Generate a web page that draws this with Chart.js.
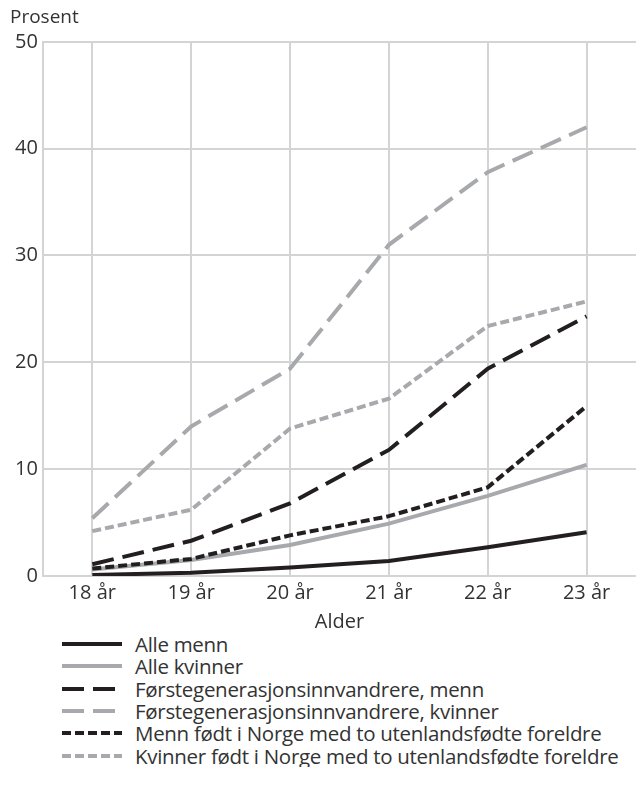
<!DOCTYPE html>
<html>
<head>
<meta charset="utf-8">
<script src="https://cdn.jsdelivr.net/npm/chart.js@4"></script>
<style>
  body { margin: 0; background: #fff; font-family: "Open Sans", sans-serif; }
  #wrap { position: relative; width: 636px; height: 634px; }
  #legend { margin: -1px 0 0 0; padding: 0 0 0 62px; list-style: none; }
  #legend li { height: 22.3px; display: flex; align-items: center; font-size: 20.5px; color: #333; white-space: nowrap; letter-spacing: -0.3px; }
  #legend svg { margin-right: 13px; flex: none; }
</style>
</head>
<body>
<div id="wrap"><canvas id="chart"></canvas></div>
<ul id="legend"></ul>
<script>
// Kategorier og verdier (prosent)
const ages = ['18 år', '19 år', '20 år', '21 år', '22 år', '23 år'];
const labels = [
    'Alle menn',
    'Alle kvinner',
    'Førstegenerasjonsinnvandrere, menn',
    'Førstegenerasjonsinnvandrere, kvinner',
    'Menn født i Norge med to utenlandsfødte foreldre',
    'Kvinner født i Norge med to utenlandsfødte foreldre'
];
const alleMenn = [0.1, 0.3, 0.8, 1.4, 2.7, 4.1];
const alleKvinner = [0.6, 1.5, 2.9, 4.9, 7.5, 10.4];
const forsteMenn = [1.1, 3.3, 6.8, 11.8, 19.4, 24.3];
const forsteKvinner = [5.4, 14.0, 19.4, 31.0, 37.8, 42.0];
const fodtMenn = [0.7, 1.6, 3.8, 5.6, 8.3, 15.9];
const fodtKvinner = [4.2, 6.2, 13.8, 16.6, 23.4, 25.7];

const black = '#231f20';
const grey = '#a7a9ac';
const longDash = [22, 9];
const shortDash = [9, 4];

const series = [
    { data: alleMenn, color: black, dash: [] },
    { data: alleKvinner, color: grey, dash: [] },
    { data: forsteMenn, color: black, dash: longDash },
    { data: forsteKvinner, color: grey, dash: longDash },
    { data: fodtMenn, color: black, dash: shortDash },
    { data: fodtKvinner, color: grey, dash: shortDash }
];

const font = { family: '"Open Sans", sans-serif', size: 20, weight: 'normal' };

const chart = new Chart(document.getElementById('chart'), {
    type: 'line',
    data: {
        labels: ages,
        datasets: series.map((s, i) => ({
            label: labels[i],
            data: s.data,
            borderColor: s.color,
            borderDash: s.dash,
            borderWidth: 4,
            pointRadius: 0,
            fill: false,
            tension: 0,
            order: 6 - i
        }))
    },
    options: {
        responsive: true,
        maintainAspectRatio: false,
        animation: false,
        layout: { padding: { left: 10, right: 0, top: 6, bottom: 0 } },
        plugins: {
            legend: { display: false },
            tooltip: { enabled: false },
            title: {
                display: true,
                text: 'Prosent',
                align: 'start',
                color: '#333',
                font: { family: font.family, size: 19, weight: 'normal' },
                padding: { top: 0, bottom: 13 }
            }
        },
        scales: {
            x: {
                offset: true,
                grid: { color: '#d4d4d4', lineWidth: 2, drawTicks: false, offset: false },
                border: { display: false },
                ticks: { color: '#333', font: font, padding: 5 },
                title: { display: true, text: 'Alder', color: '#333', font: font, padding: 0 }
            },
            y: {
                min: 0,
                max: 50,
                grid: { color: '#d4d4d4', lineWidth: 2, drawTicks: false },
                border: { color: '#d4d4d4', width: 2 },
                ticks: { stepSize: 10, color: '#333', font: font, padding: 5 }
            }
        }
    }
});

// Tegnforklaring
const legend = document.getElementById('legend');
series.forEach((s, i) => {
    const li = document.createElement('li');
    li.innerHTML = `<svg width="60" height="6"><line x1="0" y1="3" x2="60" y2="3" stroke="${s.color}" stroke-width="4" stroke-dasharray="${s.dash.join(' ')}"/></svg>${labels[i]}`;
    legend.appendChild(li);
});
</script>
</body>
</html>
